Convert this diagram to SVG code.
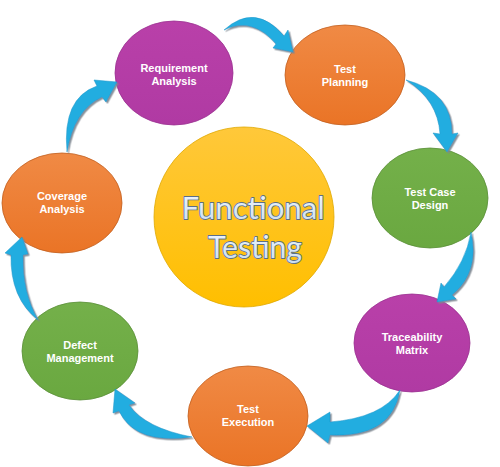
<svg xmlns="http://www.w3.org/2000/svg" width="500" height="467" viewBox="0 0 500 467">
<defs>
<linearGradient id="gY" x1="0" y1="0" x2="0" y2="1"><stop offset="0" stop-color="#ffc83a"/><stop offset="1" stop-color="#ffbf00"/></linearGradient>
<linearGradient id="gO" x1="0" y1="0" x2="0" y2="1"><stop offset="0" stop-color="#f08a45"/><stop offset="1" stop-color="#ea7426"/></linearGradient>
<linearGradient id="gP" x1="0" y1="0" x2="0" y2="1"><stop offset="0" stop-color="#b940a9"/><stop offset="1" stop-color="#b03aa3"/></linearGradient>
<linearGradient id="gG" x1="0" y1="0" x2="0" y2="1"><stop offset="0" stop-color="#74b04a"/><stop offset="1" stop-color="#6aa840"/></linearGradient>
<linearGradient id="gT" x1="0" y1="0" x2="0" y2="1"><stop offset="0" stop-color="#f4f8fc"/><stop offset="1" stop-color="#c9ddef"/></linearGradient>
<filter id="shd" x="-20%" y="-20%" width="140%" height="140%">
<feDropShadow dx="1.5" dy="1.5" stdDeviation="0.6" flood-color="#7d8690" flood-opacity="0.9"/>
</filter>
</defs>
<style>
.lbl{font-family:"Liberation Sans",Arial,sans-serif;font-weight:bold;font-size:11px;fill:#ffffff;text-anchor:middle}
.big{font-family:Lato,"Open Sans",sans-serif;font-size:31px;fill:url(#gT);stroke:#5b6f8a;stroke-width:1.8;text-anchor:middle;paint-order:stroke;stroke-linejoin:round}
.arr{fill:#22ade0;stroke:#1a95c8;stroke-width:0.5}
.p{fill:url(#gP);stroke:#9a3190;stroke-width:0.8}
.o{fill:url(#gO);stroke:#c25f1f;stroke-width:0.8}
.g{fill:url(#gG);stroke:#5a8f38;stroke-width:0.8}
</style>
<g id="center">
<circle cx="244" cy="217" r="90" fill="url(#gY)" stroke="#e0a800" stroke-width="0.8"/>
<text class="big" x="253" y="219" textLength="143" lengthAdjust="spacingAndGlyphs">Functional</text>
<text class="big" x="255" y="258" textLength="94" lengthAdjust="spacingAndGlyphs">Testing</text>
</g>
<g id="requirement-analysis">
<ellipse class="p" cx="174" cy="73" rx="59" ry="52"/>
<text class="lbl" x="174" y="72">Requirement</text>
<text class="lbl" x="174" y="85">Analysis</text>
</g>
<g id="test-planning">
<ellipse class="o" cx="345" cy="75" rx="60" ry="50"/>
<text class="lbl" x="345" y="73">Test</text>
<text class="lbl" x="345" y="86">Planning</text>
</g>
<g id="test-case-design">
<ellipse class="g" cx="430" cy="198" rx="58" ry="50"/>
<text class="lbl" x="430" y="196">Test Case</text>
<text class="lbl" x="430" y="209">Design</text>
</g>
<g id="traceability-matrix">
<ellipse class="p" cx="412" cy="343" rx="58" ry="49"/>
<text class="lbl" x="412" y="341">Traceability</text>
<text class="lbl" x="412" y="354">Matrix</text>
</g>
<g id="test-execution">
<ellipse class="o" cx="248" cy="416" rx="60" ry="50"/>
<text class="lbl" x="248" y="413">Test</text>
<text class="lbl" x="248" y="426">Execution</text>
</g>
<g id="defect-management">
<ellipse class="g" cx="80" cy="351" rx="58" ry="49"/>
<text class="lbl" x="80" y="349">Defect</text>
<text class="lbl" x="80" y="362">Management</text>
</g>
<g id="coverage-analysis">
<ellipse class="o" cx="62" cy="203" rx="60" ry="50"/>
<text class="lbl" x="62" y="200">Coverage</text>
<text class="lbl" x="62" y="213">Analysis</text>
</g>
<g id="connectors" filter="url(#shd)">
<path id="a1" d="M 224,30 Q 255,2 284,36 L 288,30 L 293,52 L 273,48 L 276,44 Q 252,16 224,30 Z" class="arr"/>
<path id="a2" d="M 406,80 Q 452,92 452,134 L 458,133 L 447,152 L 433,133 L 440,134 Q 438,100 406,80 Z" class="arr"/>
<path id="a3" d="M 471,232 Q 480,272 452,295 L 456,299 L 437,302 L 441,283 L 444,287 Q 466,262 471,232 Z" class="arr"/>
<path id="a4" d="M 400,390 Q 392,438 330,435 L 328,443 L 307,426 L 330,412 L 330,422 Q 382,418 400,390 Z" class="arr"/>
<path id="a5" d="M 192,437 Q 145,428 129,405 L 135,403 L 115,389 L 113,413 L 119,411 Q 135,445 192,437 Z" class="arr"/>
<path id="a6" d="M 38,320 Q 22,292 23,255 L 28,254 L 22,237 L 5,253 L 11,255 Q 10,298 38,320 Z" class="arr"/>
<path id="a7" d="M 67,152 Q 62,98 97,86 L 94,80 L 117,82 L 106,102 L 102,97 Q 74,110 67,152 Z" class="arr"/>
</g>
</svg>
